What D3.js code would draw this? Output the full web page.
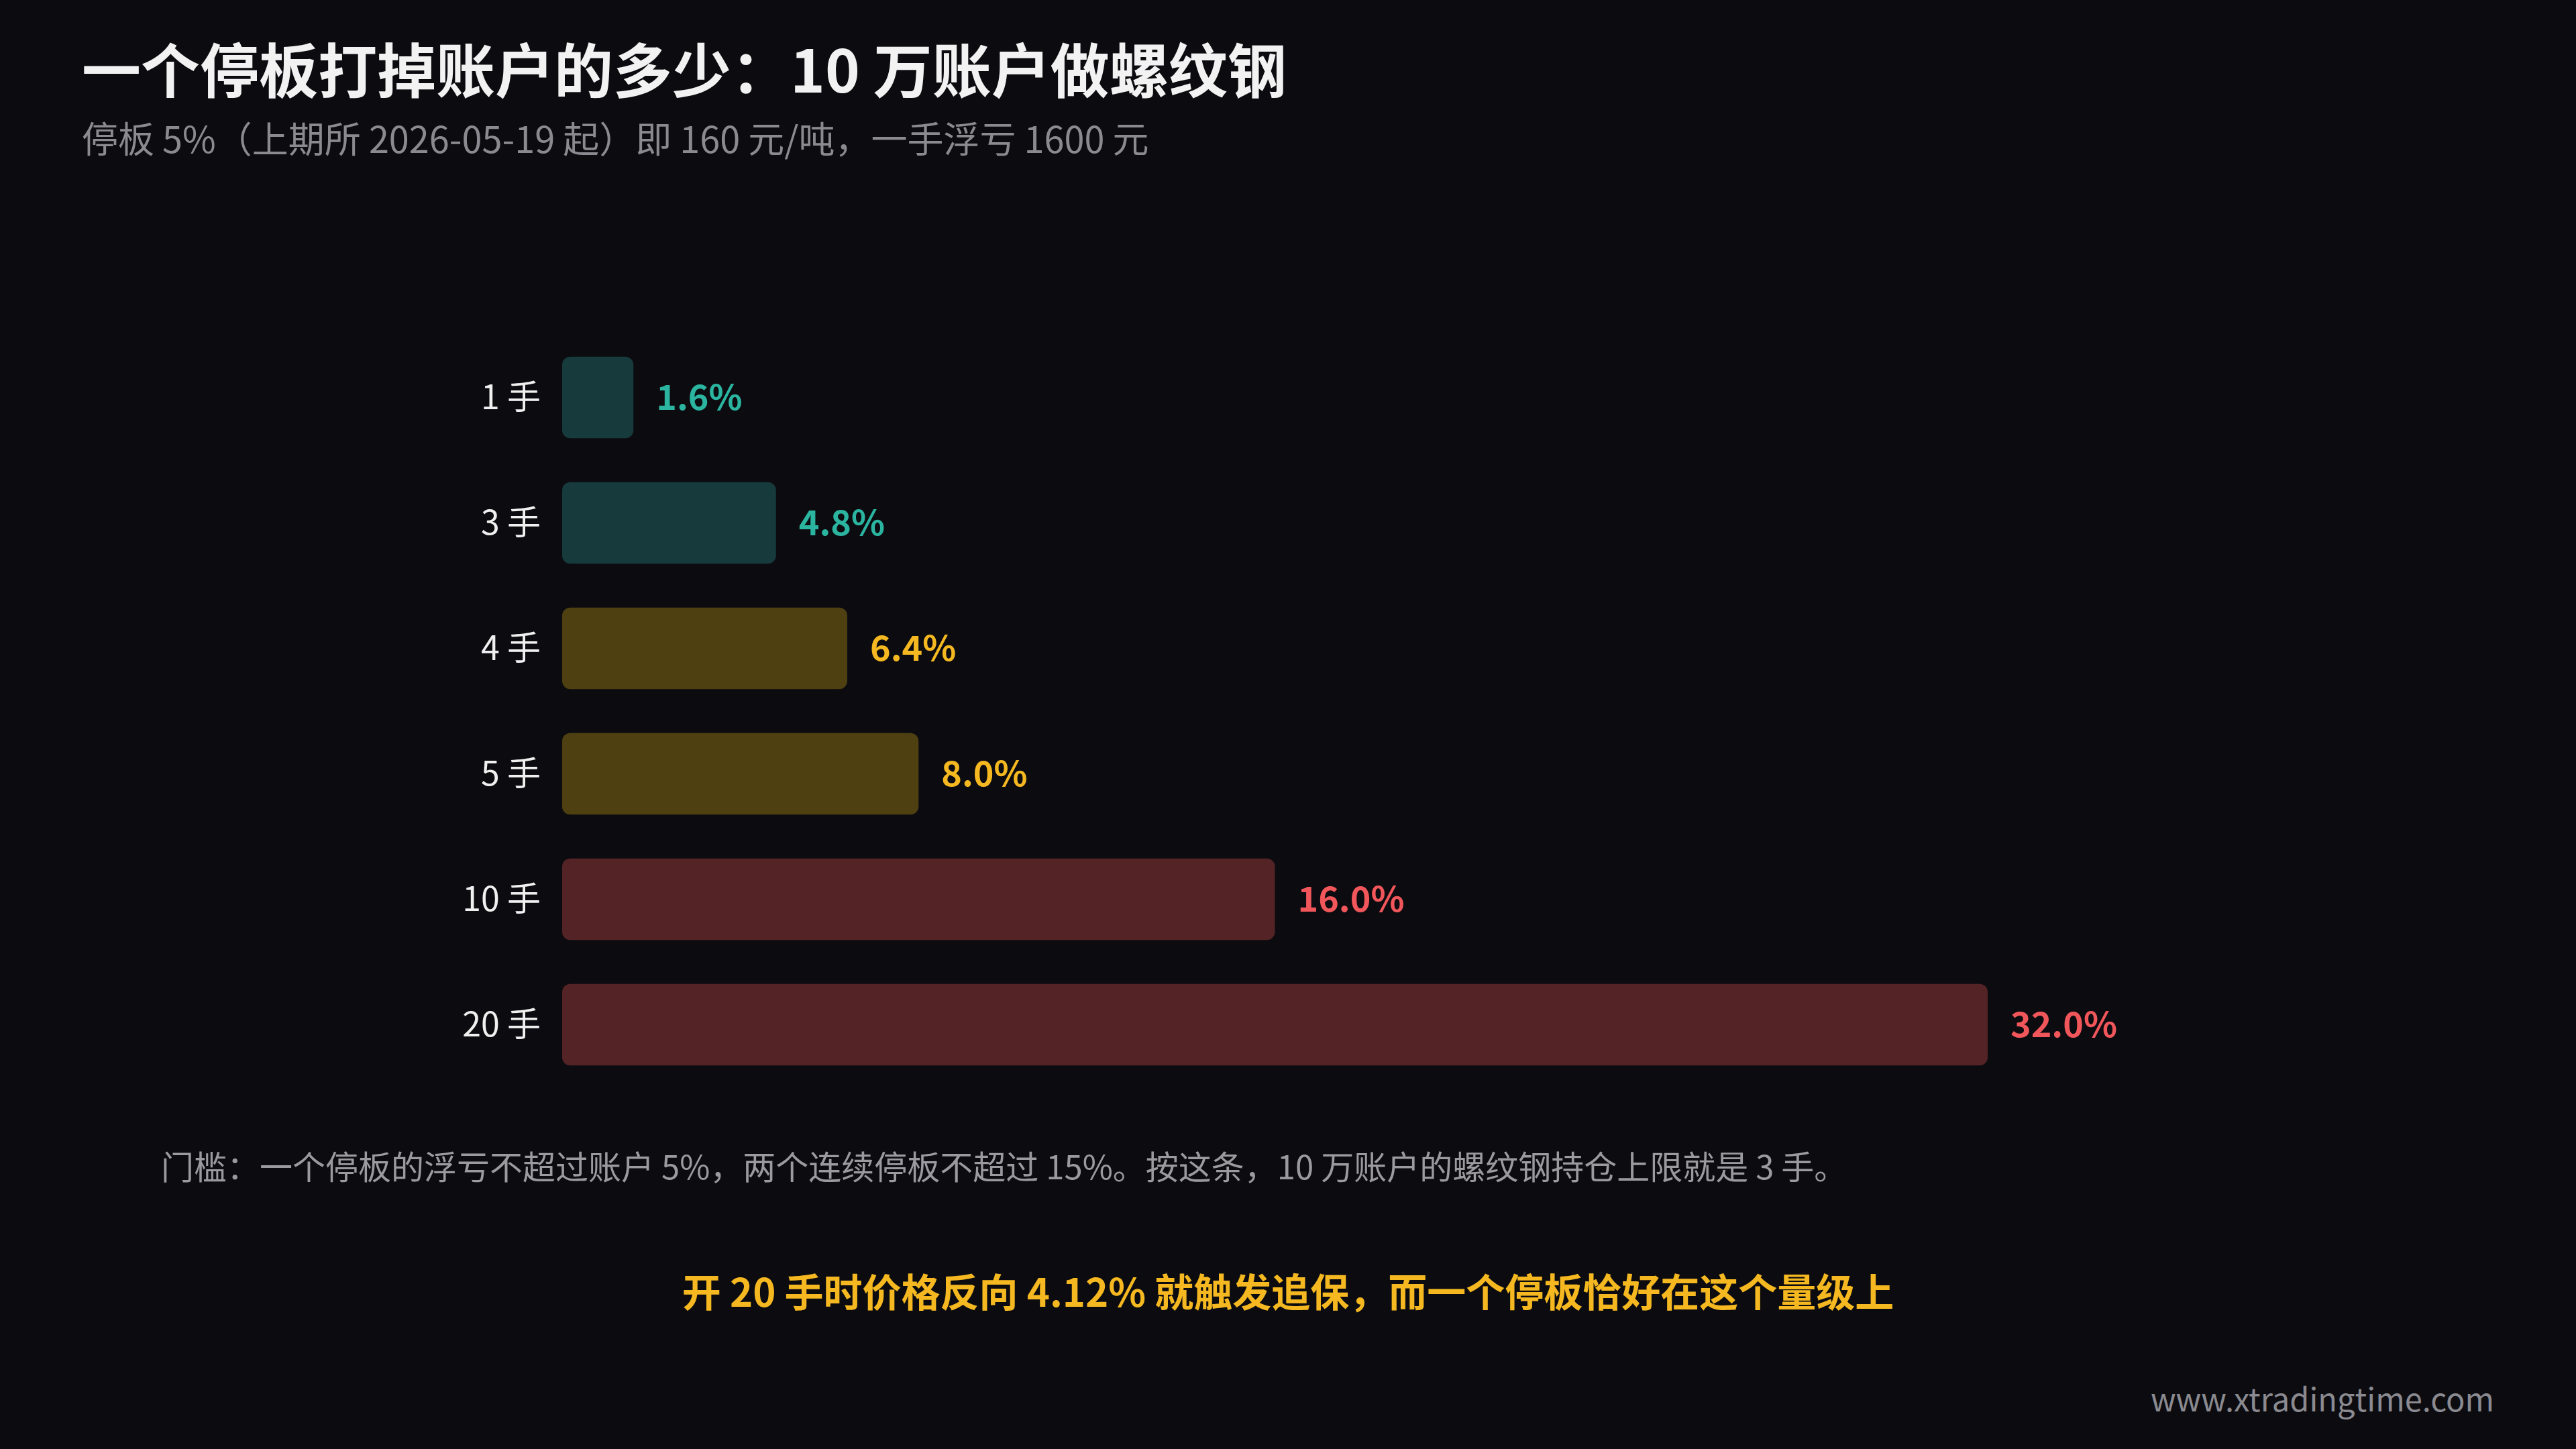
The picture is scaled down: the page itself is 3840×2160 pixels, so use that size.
<!DOCTYPE html>
<html><head><meta charset="utf-8">
<script src="https://cdn.jsdelivr.net/npm/d3@7"></script>
<style>html,body{margin:0;background:#0c0c10;}svg{display:block;}</style>
</head><body>
<script>
const categories = ["1 手","3 手","4 手","5 手","10 手","20 手"];
const values = [1.6, 4.8, 6.4, 8.0, 16.0, 32.0];
const groups = ["low","low","mid","mid","high","high"];
const barColors = {low:"#173a3c", mid:"#4f4012", high:"#532326"};
const labelColors = {low:"#2bb5a0", mid:"#f5b820", high:"#f0565a"};
const W=3840,H=2160;
const font="'Noto Sans CJK SC','Noto Sans',sans-serif";
const svg=d3.select("body").append("svg").attr("width",W).attr("height",H).style("background","#0c0c10");
svg.append("text").attr("x",122).attr("y",138).attr("fill","#f2f2f2").attr("font-size",88).attr("font-weight",700).attr("font-family",font).text("一个停板打掉账户的多少：10 万账户做螺纹钢");
svg.append("text").attr("x",122).attr("y",228).attr("fill","#8a8a90").attr("font-size",54).attr("font-family",font).text("停板 5%（上期所 2026-05-19 起）即 160 元/吨，一手浮亏 1600 元");
const x=d3.scaleLinear().domain([0,32]).range([838,2963]);
const y=d3.scaleBand().domain(categories).range([500,1620]).paddingInner(0.35).paddingOuter(0.17);
const g=svg.append("g");
categories.forEach((c,i)=>{
  const v=values[i],gr=groups[i];
  g.append("rect").attr("x",x(0)).attr("y",y(c)).attr("width",x(v)-x(0)).attr("height",y.bandwidth()).attr("rx",12).attr("fill",barColors[gr]);
  g.append("text").attr("x",x(0)-32).attr("y",y(c)+y.bandwidth()/2).attr("dy","0.35em").attr("text-anchor","end").attr("fill","#f0f0f0").attr("font-size",50).attr("font-family",font).text(c);
  g.append("text").attr("x",x(v)+34).attr("y",y(c)+y.bandwidth()/2).attr("dy","0.35em").attr("fill",labelColors[gr]).attr("font-size",52).attr("font-weight",600).attr("font-family",font).text(v.toFixed(1)+"%");
});
svg.append("text").attr("x",240).attr("y",1758).attr("fill","#9a9aa0").attr("font-size",49).attr("font-family",font).text("门槛：一个停板的浮亏不超过账户 5%，两个连续停板不超过 15%。按这条，10 万账户的螺纹钢持仓上限就是 3 手。");
svg.append("text").attr("x",1920).attr("y",1948).attr("text-anchor","middle").attr("fill","#f5b820").attr("font-size",58).attr("font-weight",700).attr("font-family",font).text("开 20 手时价格反向 4.12% 就触发追保，而一个停板恰好在这个量级上");
svg.append("text").attr("x",3718).attr("y",2104).attr("text-anchor","end").attr("fill","#8a8a90").attr("font-size",47).attr("font-family",font).text("www.xtradingtime.com");
</script>
</body></html>
